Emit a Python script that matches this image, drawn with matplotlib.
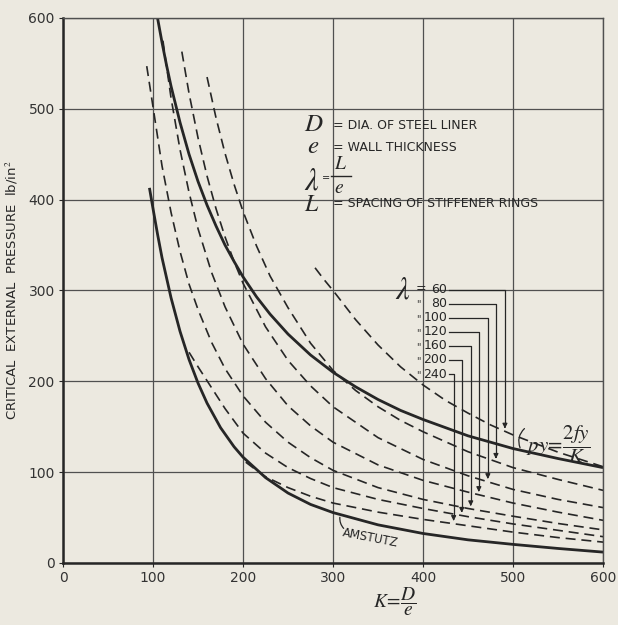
import numpy as np
import matplotlib
matplotlib.use("Agg")
import matplotlib.pyplot as plt

plt.rcParams['font.family'] = ['DejaVu Sans']
plt.rcParams['mathtext.fontset'] = 'stix'

# curves: K = D/e against critical pressure (lb/in2)
k_yield = [105, 110, 115, 120, 130, 140, 150, 160, 170, 180, 190, 200, 215, 230, 250, 275, 300,
           325, 350, 375, 400, 450, 500, 550, 600]
p_yield = [600, 573, 548, 525, 485, 450, 420, 394, 371, 350, 332, 315, 293, 274, 252, 229, 210,
           194, 180, 168, 158, 140, 126, 115, 105]

k_amstutz = [96, 100, 105, 110, 120, 130, 140, 150, 160, 175, 190, 200, 225, 250, 275, 300, 350,
             400, 450, 500, 550, 600]
p_amstutz = [413, 390, 362, 336, 292, 255, 224, 198, 176, 149, 128, 116.5, 94, 77, 64.5, 55.5, 42,
             32.5, 25.5, 20.5, 16, 12]

lambdas = [60, 80, 100, 120, 160, 200, 240]
k_lam = {
    60: [280, 290, 300, 325, 350, 375, 400, 425, 450, 475, 500, 550, 600],
    80: [160, 170, 180, 190, 200, 215, 230, 250, 275, 300, 325, 350, 375, 400, 450, 500, 550, 600],
    100: [132, 140, 150, 160, 170, 180, 190, 200, 225, 250, 275, 300, 350, 400, 450, 500, 550, 600],
    120: [111, 115, 120, 130, 140, 150, 165, 180, 200, 225, 250, 275, 300, 350, 400, 450, 500, 550, 600],
    160: [93, 100, 110, 120, 130, 140, 150, 165, 180, 200, 225, 250, 275, 300, 350, 400, 450, 500, 550, 600],
    200: [140, 150, 165, 180, 200, 225, 250, 275, 300, 350, 400, 450, 500, 550, 600],
    240: [203, 215, 225, 250, 275, 300, 350, 400, 450, 500, 550, 600],
}
p_lam = {
    60: [325, 312, 300, 268, 240, 216, 196, 179, 165, 152, 141, 122, 106],
    80: [535, 490, 451, 417, 387, 349, 316, 281, 242, 212, 190, 172, 157, 144.5, 122.5, 105, 92, 80],
    100: [563, 517, 468, 426, 390, 359, 332, 308, 260, 223, 195, 172, 138, 114, 96, 81, 70, 61],
    120: [575, 547, 512, 455, 408, 368, 320, 282, 241, 203, 173, 151, 133, 108, 91, 78, 66, 56, 47],
    160: [547, 502, 437, 386, 343, 307, 279, 243, 214, 184, 155, 133, 116, 102, 83, 70, 60, 51.5, 43.5, 36.5],
    200: [232, 216, 193, 170, 143, 121, 105, 93, 83, 70, 60, 51, 43, 36, 29],
    240: [111, 102, 95, 83, 73.5, 66, 56, 48, 41, 34, 28, 23],
}
# where the leader of each lambda label comes down
leader_k = [491, 481, 472, 462, 453, 443, 434]

paper = '#ece9e0'
ink = '#262626'
serif = dict(color=ink, family='STIXGeneral', style='italic')

fig = plt.figure(figsize=(6.18, 6.25), dpi=100, facecolor=paper)
ax = fig.add_axes([0.102, 0.0992, 0.8738, 0.872])
ax.set_facecolor(paper)

ax.set_xlim(0, 600)
ax.set_ylim(0, 600)
ax.set_xticks(range(0, 601, 100))
ax.set_yticks(range(0, 601, 100))
ax.grid(True, color='#505050', lw=0.9)
ax.set_axisbelow(True)
ax.tick_params(length=3, color=ink, labelsize=10, labelcolor='#333333', pad=3)
for side in ['top', 'right']:
    ax.spines[side].set_linewidth(1.0)
    ax.spines[side].set_color('#505050')
for side in ['left', 'bottom']:
    ax.spines[side].set_linewidth(1.8)
    ax.spines[side].set_color(ink)

ax.plot(k_yield, p_yield, color=ink, lw=2.0, solid_capstyle='butt')
ax.plot(k_amstutz, p_amstutz, color=ink, lw=2.0, solid_capstyle='butt')
for lam in lambdas:
    ax.plot(k_lam[lam], p_lam[lam], color=ink, lw=1.2, dashes=(6, 3.5))

# legend of symbols
ax.text(268, 482, 'D', fontsize=18, va='center', **serif)
ax.text(300, 482, '= DIA. OF STEEL LINER', fontsize=9, color=ink, va='center')
ax.text(271, 458, 'e', fontsize=18, va='center', **serif)
ax.text(300, 457, '= WALL THICKNESS', fontsize=9, color=ink, va='center')
ax.text(268, 421, r'$\lambda$', fontsize=22, color=ink, va='center')
ax.text(288, 424, '=', fontsize=7, color=ink, va='center')
ax.text(301, 439, 'L', fontsize=14, va='center', **serif)
ax.plot([298, 320], [426, 426], color=ink, lw=1.0)
ax.text(302, 413, 'e', fontsize=14, va='center', **serif)
ax.text(268, 394, 'L', fontsize=17, va='center', **serif)
ax.text(300, 396, '= SPACING OF STIFFENER RINGS', fontsize=9, color=ink, va='center')

# lambda labels with leaders
row_p = [301, 285.5, 270, 254.5, 239, 223.5, 208]
ax.text(369, 301, r'$\lambda$', fontsize=22, color=ink, va='center')
ax.text(392, 302, '=', fontsize=9, color=ink, va='center')
for i, lam in enumerate(lambdas):
    ax.text(427, row_p[i], str(lam), fontsize=9, color=ink, va='center', ha='right')
    if i > 0:
        ax.text(397, row_p[i] - 1, '"', fontsize=7, color=ink, va='center', ha='right')
    kx = leader_k[i]
    pc = np.interp(kx, k_lam[lam], p_lam[lam])
    ax.plot([429, kx, kx], [row_p[i], row_p[i], pc + 8], color=ink, lw=0.9)
    ax.annotate('', xy=(kx, pc), xytext=(kx, pc + 9),
                arrowprops=dict(arrowstyle='-|>', color=ink, lw=0.9, mutation_scale=7))

# yield line label
ax.text(514, 131, r'$py\!=\!\dfrac{2fy}{K}$', fontsize=15, color=ink, va='center')
ax.annotate('', xy=(509, np.interp(509, k_yield, p_yield)), xytext=(515, 150),
            arrowprops=dict(arrowstyle='-', color=ink, lw=0.9,
                            connectionstyle='arc3,rad=0.4'))

# Amstutz label
ax.text(312, 40, 'AMSTUTZ', fontsize=8.5, color=ink, rotation=-11,
        va='top', ha='left', rotation_mode='anchor')
ax.annotate('', xy=(308, np.interp(308, k_amstutz, p_amstutz)), xytext=(314, 36),
            arrowprops=dict(arrowstyle='-', color=ink, lw=0.9,
                            connectionstyle='arc3,rad=-0.3'))

ax.set_ylabel('CRITICAL  EXTERNAL  PRESSURE  lb/in$^2$', fontsize=9.5, color=ink, labelpad=6)
ax.text(369, -0.072, r'$K\!=\!\dfrac{D}{e}$', fontsize=14, color=ink,
        transform=ax.get_xaxis_transform(), ha='center', va='center')

fig.savefig('out.png', dpi=100, facecolor=paper)
